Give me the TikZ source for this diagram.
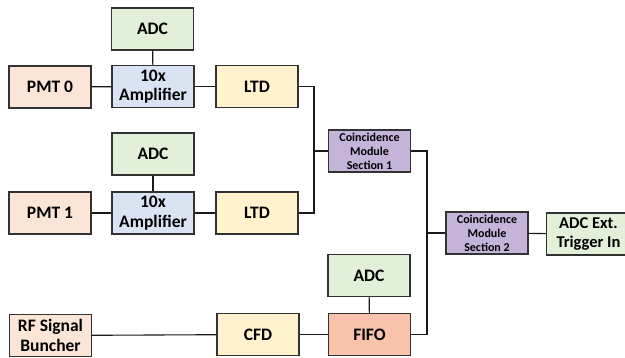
\documentclass[tikz,border=0pt]{standalone}
\usepackage{fontspec}
\setmainfont{Carlito}
\begin{document}
\begin{tikzpicture}[x=1pt,y=-1pt,
  box/.style={draw=boxline,line width=1.1pt,minimum width=82pt,minimum height=42pt,
    inner sep=1pt,align=center,font=\fontsize{17.5}{19.5}\selectfont\bfseries},
  cbox/.style={box,font=\fontsize{12}{14}\selectfont\bfseries},
  wire/.style={draw=wirecol,line width=1.1pt}]
\definecolor{boxline}{RGB}{50,50,50}
\definecolor{wirecol}{RGB}{25,25,25}
\definecolor{pmtcol}{RGB}{251,229,214}
\definecolor{ampcol}{RGB}{218,227,243}
\definecolor{ltdcol}{RGB}{255,242,204}
\definecolor{adccol}{RGB}{226,240,217}
\definecolor{coincol}{RGB}{197,180,218}
\definecolor{fifocol}{RGB}{248,195,170}
\useasboundingbox (0,0) rectangle (625,358);

% channel 0
\node[box,fill=adccol] (adc0) at (152.5,29) {ADC};
\node[box,fill=pmtcol] (pmt0) at (50,87) {PMT 0};
\node[box,fill=ampcol] (amp0) at (153,86.5) {10x\\Amplifier};
\node[box,fill=ltdcol] (ltd0) at (257,86.5) {LTD};
% channel 1
\node[box,fill=adccol] (adc1) at (153,154) {ADC};
\node[box,fill=pmtcol] (pmt1) at (50,213) {PMT 1};
\node[box,fill=ampcol] (amp1) at (153,213) {10x\\Amplifier};
\node[box,fill=ltdcol] (ltd1) at (257,213) {LTD};
% coincidence logic
\node[cbox,fill=coincol] (co1) at (369.5,151) {Coincidence\\Module\\Section 1};
\node[cbox,fill=coincol] (co2) at (487,233) {Coincidence\\Module\\Section 2};
\node[box,fill=adccol,minimum width=84pt,font=\fontsize{16.5}{19.5}\selectfont\bfseries]
  (ext) at (588.5,234) {ADC Ext.\\Trigger In};
% RF branch
\node[box,fill=adccol] (adc2) at (369,275.5) {ADC};
\node[box,fill=pmtcol] (rf) at (50.5,335.5) {RF Signal\\Buncher};
\node[box,fill=ltdcol] (cfd) at (258,334.5) {CFD};
\node[box,fill=fifocol] (fifo) at (369.5,334.5) {FIFO};

% junction points of the merge lines
\coordinate (j1) at (314,151);
\coordinate (j2) at (427,233);

% connections
\path[wire] (pmt0) -- (amp0);
\path[wire] (amp0) -- (ltd0);
\path[wire] (adc0) -- (amp0);
\path[wire] (pmt1) -- (amp1);
\path[wire] (amp1) -- (ltd1);
\path[wire] (adc1) -- (amp1);
\path[wire] (ltd0.east) -| (j1) |- (ltd1.east);
\path[wire] (j1) -- (co1.west);
\path[wire] (co1.east) -| (j2) |- (fifo.east);
\path[wire] (j2) -- (co2.west);
\path[wire] (co2) -- (ext);
\path[wire] (rf) -- (cfd);
\path[wire] (cfd) -- (fifo);
\path[wire] (adc2) -- (fifo);
\end{tikzpicture}
\end{document}
